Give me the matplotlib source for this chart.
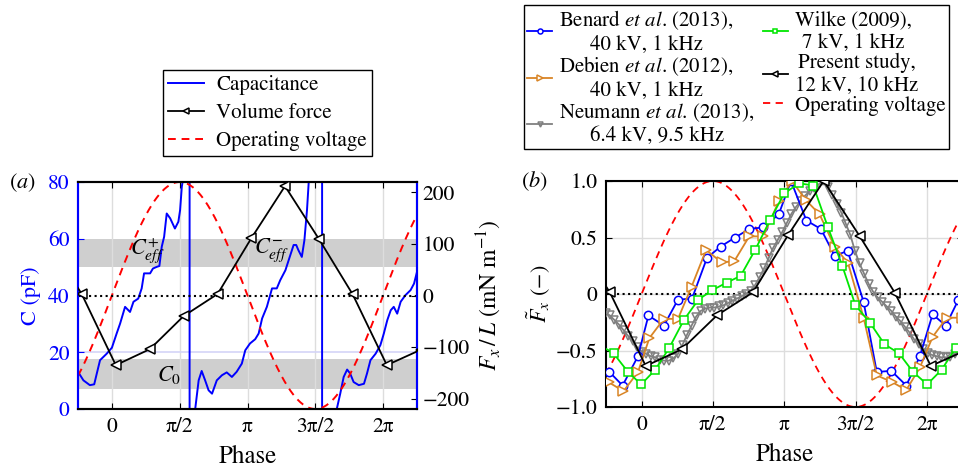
import numpy as np
import matplotlib
matplotlib.use("Agg")
import matplotlib.pyplot as plt

plt.rcParams['font.family'] = 'STIXGeneral'
plt.rcParams['mathtext.fontset'] = 'stix'
plt.rcParams['font.size'] = 15
plt.rcParams['xtick.direction'] = 'in'
plt.rcParams['ytick.direction'] = 'in'

# ---- (a) capacitance (pF) vs phase; the +-400 pairs are the jumps through infinity
cap_phase = [-0.785, -0.66, -0.51, -0.41, -0.35, -0.275, -0.12, 0.0, 0.11, 0.19,
             0.305, 0.42, 0.50, 0.61, 0.69, 0.745, 0.885, 0.95, 1.04, 1.10,
             1.155, 1.21, 1.27, 1.35, 1.46, 1.54, 1.58, 1.62, 1.645, 1.80,
             1.80, 1.93, 2.01, 2.08, 2.16, 2.24, 2.32, 2.43, 2.55, 2.66,
             2.78, 2.89, 3.01, 3.09, 3.20, 3.32, 3.40, 3.48, 3.59, 3.71,
             3.82, 3.90, 4.02, 4.12, 4.21, 4.27, 4.32, 4.40, 4.46, 4.52,
             4.56, 4.87, 4.87, 5.21, 5.29, 5.37, 5.45, 5.52, 5.60, 5.72,
             5.84, 5.91, 5.99, 6.11, 6.22, 6.30, 6.38, 6.46, 6.53, 6.61,
             6.69, 6.80, 6.92, 7.00, 7.07]
cap_val = [13.1, 10.1, 8.4, 8.7, 12.5, 17.2, 19.5, 21.6, 26.6, 30.1,
           36.0, 34.2, 37.8, 38.9, 42.5, 47.8, 47.8, 49.5, 50.1, 50.4,
           57.2, 60.7, 68.9, 67.2, 63.6, 66.0, 70.1, 78.4, 80.7, 400,
           -400, 0.0, 10.1, 13.4, 10.1, 6.6, 5.4, 10.1, 11.9, 12.9,
           11.3, 13.1, 16.0, 20.7, 23.1, 24.6, 26.6, 31.9, 36.0, 42.5,
           42.5, 45.4, 48.9, 53.6, 57.8, 57.8, 56.0, 53.6, 59.5, 70.1,
           80.0, 400, -400, 0.0, 5.4, 11.3, 13.9, 12.5, 9.5, 8.4,
           8.9, 12.5, 17.2, 19.5, 22.5, 26.6, 31.3, 34.8, 36.0, 33.6,
           37.8, 40.1, 41.9, 44.2, 48.4]

# volume force of the present study (mN/m)
force_phase = [-1.49, -0.70, 0.09, 0.88, 1.66, 2.45, 3.23, 4.01, 4.80, 5.58, 6.37, 7.16]
force_val = [108, 3, -135, -104, -40, 3, 111, 212, 109, 2, -135, -105]

c0_band = (7.0, 17.5)
ceff_band = (50.0, 60.0)

# ---- (b) normalised force from the literature
benard_phase = [-0.71, -0.42, -0.08, 0.15, 0.49, 0.80, 1.11, 1.44, 1.74, 2.06,
                2.37, 2.68, 3.02, 3.29, 3.63, 3.95, 4.25, 4.54, 4.89, 5.18,
                5.50, 5.83, 6.13, 6.41, 6.70, 6.98]
benard_val = [-0.69, -0.81, -0.55, -0.19, -0.28, -0.05, -0.04, 0.32, 0.42, 0.50,
              0.575, 0.59, 0.705, 1.0, 0.65, 0.575, 0.34, 0.38, -0.07, -0.69,
              -0.68, -0.81, -0.55, -0.18, -0.28, -0.05]

debien_phase = [-0.73, -0.40, -0.08, 0.17, 0.49, 0.80, 1.10, 1.42, 1.76, 2.04,
                2.37, 2.68, 3.02, 3.31, 3.62, 3.92, 4.25, 4.55, 4.89, 5.18,
                5.52, 5.83, 6.13, 6.41, 6.72, 7.05]
debien_val = [-0.78, -0.86, -0.69, -0.39, -0.22, -0.22, 0.065, 0.39, 0.28, 0.29,
              0.51, 0.51, 0.82, 1.0, 0.83, 0.705, 0.42, 0.27, -0.21, -0.72,
              -0.78, -0.85, -0.65, -0.38, -0.21, -0.21]

wilke_phase = [-0.93, -0.62, -0.30, -0.01, 0.30, 0.61, 0.93, 1.25, 1.56, 1.87,
               2.18, 2.50, 2.83, 3.14, 3.47, 3.78, 4.10, 4.42, 4.71, 5.04,
               5.35, 5.67, 5.98, 6.29, 6.61, 6.92]
wilke_val = [-0.45, -0.525, -0.69, -0.80, -0.67, -0.475, -0.23, -0.05, 0.035, 0.10,
             0.16, 0.39, 0.655, 0.89, 0.98, 0.96, 0.595, 0.25, -0.10, -0.26,
             -0.445, -0.525, -0.69, -0.80, -0.67, -0.475]

neumann_phase = [-0.78, -0.70, -0.60, -0.50, -0.40, -0.30, -0.20, -0.10, 0.00, 0.10,
                 0.20, 0.30, 0.40, 0.50, 0.60, 0.70, 0.80, 0.90, 1.00, 1.10,
                 1.20, 1.30, 1.40, 1.50, 1.60, 1.70, 1.80, 1.90, 2.00, 2.10,
                 2.20, 2.30, 2.40, 2.50, 2.60, 2.70, 2.80, 2.90, 3.00, 3.10,
                 3.20, 3.30, 3.40, 3.50, 3.60, 3.70, 3.80, 3.90, 4.00, 4.10,
                 4.20, 4.30, 4.40, 4.50, 4.60, 4.70, 4.80, 4.90, 5.00, 5.10,
                 5.20, 5.30, 5.40, 5.50, 5.60, 5.70, 5.80, 5.90, 6.00, 6.10,
                 6.20, 6.30, 6.40, 6.50, 6.60, 6.70, 6.80, 6.90, 7.00]
neumann_val = [-0.17, -0.19, -0.23, -0.27, -0.32, -0.37, -0.42, -0.47, -0.51, -0.53,
               -0.55, -0.56, -0.58, -0.59, -0.59, -0.57, -0.53, -0.45, -0.36, -0.28,
               -0.20, -0.15, -0.13, -0.12, -0.12, -0.11, -0.10, -0.08, -0.06, -0.04,
               -0.02, 0.00, 0.03, 0.08, 0.15, 0.23, 0.32, 0.41, 0.48, 0.55,
               0.63, 0.71, 0.77, 0.82, 0.87, 0.91, 0.94, 0.97, 1.00, 0.95,
               0.88, 0.80, 0.72, 0.62, 0.52, 0.38, 0.27, 0.18, 0.09, 0.02,
               -0.03, -0.07, -0.11, -0.15, -0.20, -0.24, -0.29, -0.34, -0.40, -0.44,
               -0.49, -0.52, -0.54, -0.55, -0.56, -0.56, -0.56, -0.53, -0.50]

xtick_pos = [0, np.pi / 2, np.pi, 3 * np.pi / 2, 2 * np.pi]
xtick_lab = ['0', 'π/2', 'π', '3π/2', '2π']
xlim = (-np.pi / 4, 2 * np.pi + np.pi / 4)

BLUE = '#0000ff'
ORANGE = '#d98526'
GREEN = '#00e600'
GREY = '#808080'
RED = '#ff0000'
W, H = 958, 472
TICK = 15.5

fig = plt.figure(figsize=(W / 100, H / 100), dpi=100)

# ================= panel (a)
ax = fig.add_axes([78 / W, (H - 409) / H, 339 / W, 227 / H])
ax2 = ax.twinx()
ax.set_xlim(*xlim)
ax.set_ylim(0, 80)
ax2.set_ylim(-220, 220)

ax.axhspan(*c0_band, color='#cfcfcf', lw=0, zorder=0)
ax.axhspan(*ceff_band, color='#cfcfcf', lw=0, zorder=0)
for xv in xtick_pos:
    ax.axvline(xv, color='#dddddd', lw=1.0, zorder=0.5)
ax.axhline(20, color='#d4d4f7', lw=1.2, zorder=0.5)

ph = np.linspace(xlim[0], xlim[1], 400)
l_cap, = ax.plot(cap_phase, cap_val, color=BLUE, lw=1.4, label='Capacitance', zorder=2)
l_volt, = ax.plot(ph, 40 + 40 * np.sin(ph), color=RED, ls=(0, (4, 3)), lw=1.4,
                  label='Operating voltage', zorder=3)
ax2.axhline(0, color='black', ls=':', lw=1.5, zorder=1)
l_force, = ax2.plot(force_phase, force_val, color='black', lw=1.3, marker='<',
                    ms=7, mfc='white', mew=1.1, label='Volume force', zorder=4)

ax.set_xticks(xtick_pos)
ax.set_xticklabels(xtick_lab)
ax.set_yticks([0, 20, 40, 60, 80])
ax2.set_yticks([-200, -100, 0, 100, 200])
ax.tick_params(axis='y', colors=BLUE, labelsize=TICK, length=4, pad=6)
ax.tick_params(axis='x', labelsize=TICK, top=True, length=4, pad=6)
ax2.tick_params(axis='y', labelsize=TICK, length=4, pad=4)
ax.spines['left'].set_color(BLUE)
ax2.spines['left'].set_color(BLUE)
ax2.spines['right'].set_color(BLUE)
for s in ax2.spines.values():
    s.set_linewidth(1.5)
for s in ax.spines.values():
    s.set_linewidth(1.5)

ax.set_xlabel('Phase', fontsize=18, labelpad=6)
ax.set_ylabel('C (pF)', color=BLUE, fontsize=16, labelpad=5)
ax2.set_ylabel('$F_x\\,/\\,L$ (mN m$^{-1}$)', fontsize=17, labelpad=3)

ax.text(0.81, 56, '$C^{+}_{eff}$', fontsize=16, ha='center', va='center', zorder=5)
ax.text(3.70, 56, '$C^{-}_{eff}$', fontsize=16, ha='center', va='center', zorder=5)
ax.text(1.32, 12, '$C_0$', fontsize=16, ha='center', va='center', zorder=5)

fig.legend(handles=[l_cap, l_force, l_volt], loc='upper left',
           bbox_to_anchor=(163 / W, 1 - 70 / H), borderaxespad=0, fontsize=15,
           frameon=True, fancybox=False, edgecolor='black', framealpha=1,
           borderpad=0.25, labelspacing=0.38, handlelength=1.7, handletextpad=0.6,
           markerscale=0.7)

fig.text(22 / W, 1 - 183 / H, '($a$)', fontsize=16, ha='center', va='center')

# ================= panel (b)
axb = fig.add_axes([606 / W, (H - 407) / H, 356.5 / W, 226 / H])
axb.set_xlim(*xlim)
axb.set_ylim(-1, 1)
axb.grid(True, color='#dddddd', lw=1.0, zorder=0)
axb.set_axisbelow(True)
axb.axhline(0, color='black', ls=':', lw=1.5, zorder=1)

fmax = max(force_val)
present_norm = [v / fmax for v in force_val]

l_ben, = axb.plot(benard_phase, benard_val, color=BLUE, lw=1.3, marker='o', ms=6,
                  mfc='white', mew=1.1, zorder=4,
                  label='Benard $\\it{et}$ $\\it{al}$. (2013),\n40 kV, 1 kHz')
l_deb, = axb.plot(debien_phase, debien_val, color=ORANGE, lw=1.3, marker='>', ms=7,
                  mfc='white', mew=1.1, zorder=4,
                  label='Debien $\\it{et}$ $\\it{al}$. (2012),\n40 kV, 1 kHz')
l_neu, = axb.plot(neumann_phase, neumann_val, color=GREY, lw=1.3, marker='v', ms=6,
                  mfc='none', mew=1.1, zorder=3,
                  label='Neumann $\\it{et}$ $\\it{al}$. (2013),\n6.4 kV, 9.5 kHz')
l_wil, = axb.plot(wilke_phase, wilke_val, color=GREEN, lw=1.3, marker='s', ms=5.5,
                  mfc='white', mew=1.1, zorder=4,
                  label='Wilke (2009),\n7 kV, 1 kHz')
l_pre, = axb.plot(force_phase, present_norm, color='black', lw=1.3, marker='<', ms=7,
                  mfc='white', mew=1.1, zorder=5,
                  label='Present study,\n12 kV, 10 kHz')
l_vb, = axb.plot(ph, np.sin(ph), color=RED, ls=(0, (4, 3)), lw=1.3, zorder=2,
                 label='Operating voltage')

axb.set_xticks(xtick_pos)
axb.set_xticklabels(xtick_lab)
axb.set_yticks([-1, -0.5, 0, 0.5, 1])
axb.set_yticklabels(['−1.0', '−0.5', '0', '0.5', '1.0'])
axb.tick_params(labelsize=TICK, top=True, right=True, length=4, pad=6)
for s in axb.spines.values():
    s.set_linewidth(1.5)
axb.set_xlabel('Phase', fontsize=18, labelpad=6)
axb.set_ylabel('$\\tilde{F}_x$ (−)', fontsize=16, labelpad=3)

leg = fig.legend(handles=[l_ben, l_deb, l_neu, l_wil, l_pre, l_vb], ncol=2,
                 loc='upper left', bbox_to_anchor=(524 / W, 1 - 5 / H),
                 borderaxespad=0, fontsize=15, frameon=True, fancybox=False,
                 edgecolor='black', framealpha=1, borderpad=0.15, labelspacing=0.0,
                 handlelength=1.2, handletextpad=0.35, columnspacing=0.4,
                 markerscale=0.6)
for t in leg.get_texts():
    t.set_multialignment('center')

fig.text(534 / W, 1 - 181 / H, '($b$)', fontsize=16, ha='center', va='center')

fig.savefig('out.png', dpi=100)
